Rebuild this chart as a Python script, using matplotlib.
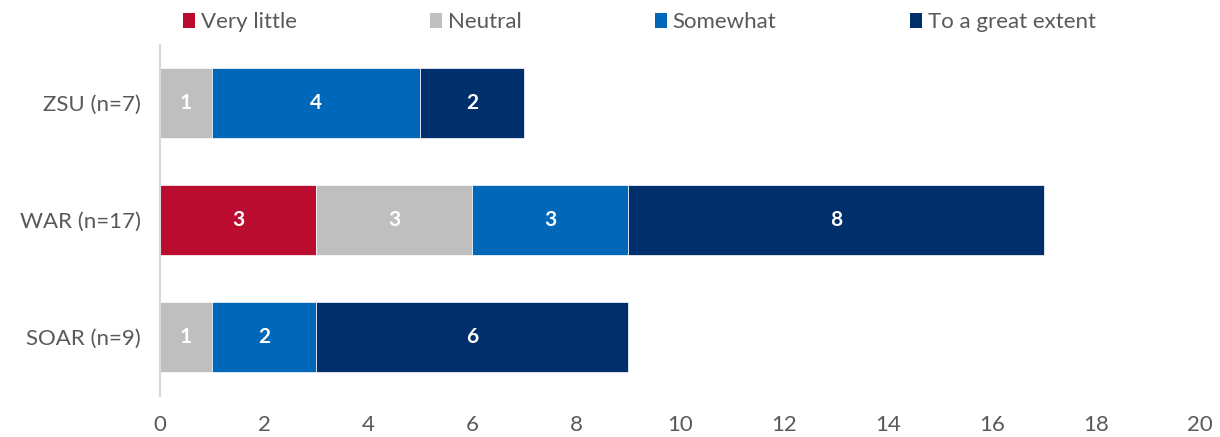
import matplotlib.pyplot as plt
from matplotlib.patches import Patch
import numpy as np

plt.rcParams['font.family'] = ['Lato', 'DejaVu Sans']

groups = ["ZSU (n=7)", "WAR (n=17)", "SOAR (n=9)"]
levels = ["Very little", "Neutral", "Somewhat", "To a great extent"]
very_little = [0, 3, 0]
neutral = [1, 3, 1]
somewhat = [4, 3, 2]
great_extent = [2, 8, 6]
colors = ["#BA0C2F", "#BFBFBF", "#0067B9", "#002F6C"]
x_ticks = list(range(0, 21, 2))

text_col = "#595959"

fig = plt.figure(figsize=(12.2, 4.37), dpi=100)
ax = fig.add_axes([160 / 1220, 1 - 395.5 / 437, 1040 / 1220, 351 / 437])

y = np.arange(len(groups))
left = np.zeros(len(groups))
for vals, col in zip([very_little, neutral, somewhat, great_extent], colors):
    vals = np.array(vals, dtype=float)
    ax.barh(y, vals, left=left, height=0.6, color=col, edgecolor="white", linewidth=0.5)
    for yi, v, l in zip(y, vals, left):
        if v > 0:
            ax.text(l + v / 2, yi, f"{int(v)}", ha="center", va="center",
                    color="white", fontsize=15, fontweight="bold")
    left += vals

ax.set_yticks(y)
ax.set_yticklabels(groups)
ax.set_ylim(2.5, -0.5)
ax.set_xlim(0, 20)
ax.set_xticks(x_ticks)
ax.tick_params(axis="both", length=0, labelsize=16, colors=text_col)
ax.tick_params(axis="x", pad=14)
ax.tick_params(axis="y", pad=14)
for s in ["top", "right", "bottom"]:
    ax.spines[s].set_visible(False)
ax.spines["left"].set_color("#D9D9D9")
ax.spines["left"].set_linewidth(1.5)

handles = [Patch(facecolor=c, edgecolor="none") for c in colors]
leg = fig.legend(handles, levels, loc="center left", bbox_to_anchor=(183 / 1220, 1 - 22 / 437),
                 ncol=4, frameon=False, fontsize=16, handlelength=0.55, handleheight=0.65,
                 handletextpad=0.25, columnspacing=6.0, borderaxespad=0, borderpad=0)
for t in leg.get_texts():
    t.set_color(text_col)

fig.savefig("out.png", dpi=100)
